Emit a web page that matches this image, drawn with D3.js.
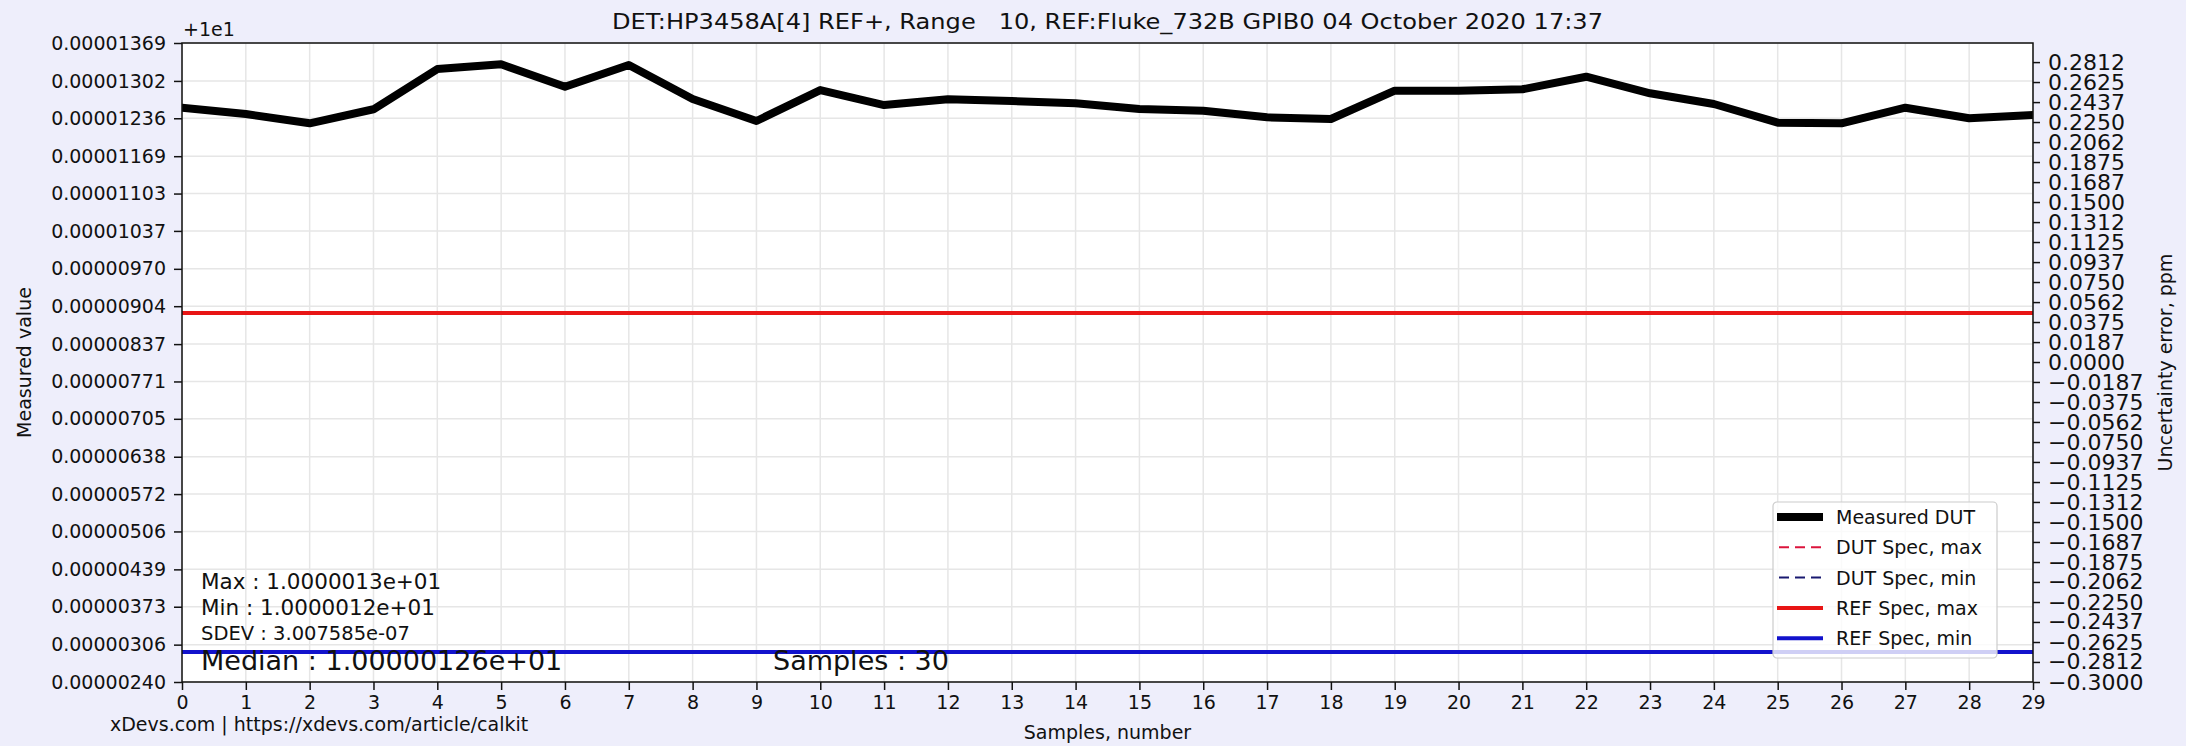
<!DOCTYPE html>
<meta charset="utf-8">
<style>
body { margin: 0; background: #eeeefb; }
text { font-family: "DejaVu Sans", sans-serif; fill: #111; }
.grid line { stroke: #e6e6e6; stroke-width: 1.5px; }
.axis path { display: none; }
.axis line { stroke: #111; stroke-width: 1.5px; }
</style>
<svg width="2186" height="746" id="chart"></svg>
<script src="https://cdnjs.cloudflare.com/ajax/libs/d3/7.8.5/d3.min.js"></script>
<script>

var samples = [0, 1, 2, 3, 4, 5, 6, 7, 8, 9, 10, 11, 12, 13, 14,
               15, 16, 17, 18, 19, 20, 21, 22, 23, 24, 25, 26, 27, 28, 29];

var measured = [10.000012547, 10.000012435, 10.000012271, 10.000012519, 10.000013230,
                10.000013314, 10.000012918, 10.000013301, 10.000012700, 10.000012312,
                10.000012859, 10.000012594, 10.000012695, 10.000012665, 10.000012624,
                10.000012524, 10.000012494, 10.000012377, 10.000012347, 10.000012847,
                10.000012847, 10.000012872, 10.000013094, 10.000012801, 10.000012612,
                10.000012282, 10.000012271, 10.000012547, 10.000012360, 10.000012418];

var refMax = 10.00000892,
    refMin = 10.00000293;

var yOffset = 10;
var yTickLabels = ["0.00000240", "0.00000306", "0.00000373", "0.00000439", "0.00000506",
                   "0.00000572", "0.00000638", "0.00000705", "0.00000771", "0.00000837",
                   "0.00000904", "0.00000970", "0.00001037", "0.00001103", "0.00001169",
                   "0.00001236", "0.00001302", "0.00001369"];

var ppmTickLabels = ["0.2812", "0.2625", "0.2437", "0.2250", "0.2062", "0.1875", "0.1687",
                     "0.1500", "0.1312", "0.1125", "0.0937", "0.0750", "0.0562", "0.0375",
                     "0.0187", "0.0000", "\u22120.0187", "\u22120.0375", "\u22120.0562",
                     "\u22120.0750", "\u22120.0937", "\u22120.1125", "\u22120.1312",
                     "\u22120.1500", "\u22120.1687", "\u22120.1875", "\u22120.2062",
                     "\u22120.2250", "\u22120.2437", "\u22120.2625", "\u22120.2812",
                     "\u22120.3000"];
var ppmDomain = [-0.3, 0.2991];

var legendItems = [
  {label: "Measured DUT", color: "#000", width: 8, dash: null},
  {label: "DUT Spec, max", color: "#dc143c", width: 2, dash: "10,6"},
  {label: "DUT Spec, min", color: "#191970", width: 2, dash: "10,6"},
  {label: "REF Spec, max", color: "#e81515", width: 4, dash: null},
  {label: "REF Spec, min", color: "#1212cc", width: 4, dash: null}
];

var stats = [
  {text: "Max : 1.0000013e+01", size: 21.5, x: 201, y: 589},
  {text: "Min : 1.0000012e+01", size: 21.5, x: 201, y: 615},
  {text: "SDEV : 3.007585e-07", size: 19.5, x: 201, y: 640},
  {text: "Median : 1.00000126e+01", size: 27, x: 201, y: 670},
  {text: "Samples : 30", size: 27, x: 773, y: 670}
];

var svg = d3.select("#chart"),
    margin = {left: 182, top: 43, right: 2186 - 2033, bottom: 746 - 682},
    width = 2186 - margin.left - margin.right,
    height = 746 - margin.top - margin.bottom;

var x = d3.scaleLinear().domain([0, 29]).range([0, width]);
var y = d3.scaleLinear()
    .domain([yOffset + 0.0000024, yOffset + 0.00001369])
    .range([height, 0]);
var yr = d3.scaleLinear().domain(ppmDomain).range([height, 0]);

var yTicks = yTickLabels.map(function(s) { return yOffset + (+s); });
var ppmTicks = ppmTickLabels.map(function(s) { return +s.replace("\u2212", "-"); });

var g = svg.append("g").attr("transform", "translate(" + margin.left + "," + margin.top + ")");

g.append("rect").attr("width", width).attr("height", height).attr("fill", "#fff");

svg.append("clipPath").attr("id", "clip")
  .append("rect").attr("width", width).attr("height", height);

// grid
var grid = g.append("g").attr("class", "grid");
grid.selectAll(".gx").data(samples).enter().append("line")
    .attr("x1", function(d) { return x(d); }).attr("x2", function(d) { return x(d); })
    .attr("y1", 0).attr("y2", height);
grid.selectAll(".gy").data(yTicks).enter().append("line")
    .attr("y1", function(d) { return y(d); }).attr("y2", function(d) { return y(d); })
    .attr("x1", 0).attr("x2", width);

var plot = g.append("g").attr("clip-path", "url(#clip)");

plot.append("line")
    .attr("x1", 0).attr("x2", width)
    .attr("y1", y(refMax)).attr("y2", y(refMax))
    .attr("stroke", legendItems[3].color).attr("stroke-width", 4);

plot.append("line")
    .attr("x1", 0).attr("x2", width)
    .attr("y1", y(refMin)).attr("y2", y(refMin))
    .attr("stroke", legendItems[4].color).attr("stroke-width", 4);

var line = d3.line()
    .x(function(d, i) { return x(samples[i]); })
    .y(function(d) { return y(d); });

plot.append("path")
    .datum(measured)
    .attr("d", line)
    .attr("fill", "none")
    .attr("stroke", "#000")
    .attr("stroke-width", 8)
    .attr("stroke-linejoin", "round")
    .attr("stroke-linecap", "square");

// axes
g.append("g").attr("class", "axis")
    .attr("transform", "translate(0," + height + ")")
    .call(d3.axisBottom(x).tickValues(samples).tickSize(8).tickPadding(6).tickSizeOuter(0))
    .selectAll("text").style("font-size", "19px").attr("fill", "#111");

g.append("g").attr("class", "axis")
    .call(d3.axisLeft(y).tickValues(yTicks).tickSize(8).tickPadding(8).tickSizeOuter(0)
      .tickFormat(function(d, i) { return yTickLabels[i]; }))
    .selectAll("text").style("font-size", "19px").attr("fill", "#111");

g.append("g").attr("class", "axis")
    .attr("transform", "translate(" + width + ",0)")
    .call(d3.axisRight(yr).tickValues(ppmTicks).tickSize(7).tickPadding(8).tickSizeOuter(0)
      .tickFormat(function(d, i) { return ppmTickLabels[i]; }))
    .selectAll("text").style("font-size", "22px").attr("fill", "#111");

g.append("rect").attr("width", width).attr("height", height)
    .attr("fill", "none").attr("stroke", "#111").attr("stroke-width", 1.5);

// stats text
g.selectAll(".stat").data(stats).enter().append("text")
    .attr("x", function(d) { return d.x - margin.left; })
    .attr("y", function(d) { return d.y - margin.top; })
    .style("font-size", function(d) { return d.size + "px"; })
    .text(function(d) { return d.text; });

// legend
var lg = svg.append("g").attr("transform", "translate(1773,502)");
lg.append("rect").attr("width", 224).attr("height", 156).attr("rx", 4)
    .attr("fill", "#fff").attr("fill-opacity", 0.8)
    .attr("stroke", "#cccccc").attr("stroke-width", 1.2);
var li = lg.selectAll(".li").data(legendItems).enter().append("g")
    .attr("transform", function(d, i) { return "translate(0," + (15 + i * 30.3) + ")"; });
li.append("line")
    .attr("x1", function(d) { return d.dash ? 6 : 4; })
    .attr("x2", function(d) { return d.dash ? 48 : 50; })
    .attr("stroke", function(d) { return d.color; })
    .attr("stroke-width", function(d) { return d.width; })
    .attr("stroke-dasharray", function(d) { return d.dash; });
li.append("text")
    .attr("x", 63).attr("y", 7)
    .style("font-size", "19px")
    .text(function(d) { return d.label; });

// titles and labels
svg.append("text")
    .attr("x", margin.left + width / 2).attr("y", 29)
    .attr("text-anchor", "middle").style("font-size", "21px")
    .style("white-space", "pre")
    .attr("textLength", 991).attr("lengthAdjust", "spacingAndGlyphs")
    .text("DET:HP3458A[4] REF+, Range   10, REF:Fluke_732B GPIB0 04 October 2020 17:37");

svg.append("text")
    .attr("x", 183).attr("y", 36).style("font-size", "19px").text("+1e1");

svg.append("text")
    .attr("transform", "translate(31," + (margin.top + height / 2) + ") rotate(-90)")
    .attr("text-anchor", "middle").style("font-size", "19px").text("Measured value");

svg.append("text")
    .attr("transform", "translate(2172," + (margin.top + height / 2) + ") rotate(-90)")
    .attr("text-anchor", "middle").style("font-size", "19px").text("Uncertainty error, ppm");

svg.append("text")
    .attr("x", margin.left + width / 2).attr("y", 739)
    .attr("text-anchor", "middle").style("font-size", "19px").text("Samples, number");

svg.append("text")
    .attr("x", 110).attr("y", 731).style("font-size", "19px")
    .text("xDevs.com | https://xdevs.com/article/calkit");

</script>
